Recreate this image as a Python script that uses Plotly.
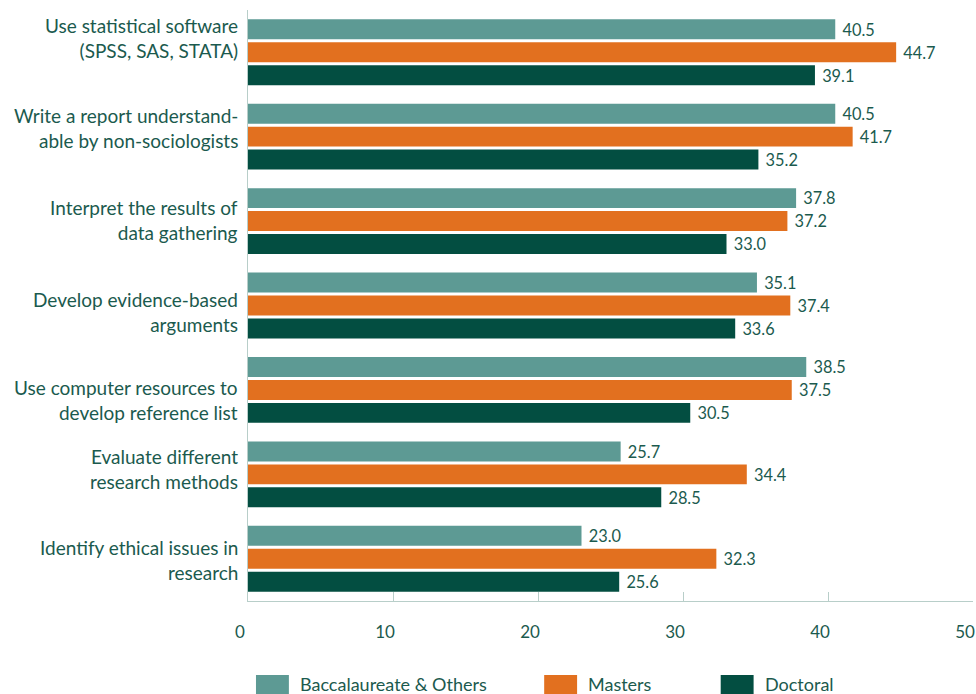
import plotly.graph_objects as go

# Skills categories (top to bottom)
categories = [
    "Use statistical software<br>(SPSS, SAS, STATA)",
    "Write a report understand-<br>able by non-sociologists",
    "Interpret the results of<br>data gathering",
    "Develop evidence-based<br>arguments",
    "Use computer resources to<br>develop reference list",
    "Evaluate different<br>research methods",
    "Identify ethical issues in<br>research",
]

series_names = ["Baccalaureate & Others", "Masters", "Doctoral"]
baccalaureate = [40.5, 40.5, 37.8, 35.1, 38.5, 25.7, 23.0]
masters = [44.7, 41.7, 37.2, 37.4, 37.5, 34.4, 32.3]
doctoral = [39.1, 35.2, 33.0, 33.6, 30.5, 28.5, 25.6]

x_ticks = [0, 10, 20, 30, 40, 50]

# Vertical nudge (px, positive = up) for each category label
label_nudge = [14, 9, 1, -6, -10, 5, -1]

colors = ["#5d9a94", "#e2701f", "#034e41"]
text_color = "#1b5a4e"
axis_color = "#b8cec9"
font_family = "Lato, 'Open Sans', sans-serif"

W, H = 976, 694
M_L, M_R, M_T, M_B = 248, 1, 10, 93
plot_w = W - M_L - M_R
plot_h = H - M_T - M_B

fig = go.Figure()
for name, vals, col in zip(series_names, [baccalaureate, masters, doctoral], colors):
    fig.add_trace(go.Bar(
        y=categories,
        x=vals,
        name=name,
        orientation="h",
        marker=dict(color=col, line=dict(width=0)),
        texttemplate="\u00a0%{x:.1f}",
        textposition="outside",
        textfont=dict(family=font_family, size=18, color=text_color),
        cliponaxis=False,
        showlegend=False,
    ))

fig.update_layout(
    width=W, height=H,
    margin=dict(l=M_L, r=M_R, t=M_T, b=M_B),
    paper_bgcolor="white",
    plot_bgcolor="white",
    barmode="group",
    bargap=0.185,
    bargroupgap=0.13,
    font=dict(family=font_family, color=text_color),
    xaxis=dict(
        range=[0, 50],
        tickvals=x_ticks,
        ticktext=[str(v) for v in x_ticks],
        showgrid=False,
        zeroline=False,
        showline=True,
        linecolor=axis_color,
        linewidth=1,
        ticks="inside",
        ticklen=9,
        tickcolor=axis_color,
        tickfont=dict(family=font_family, size=17, color=text_color),
        ticklabelstandoff=16,
        ticklabelshift=-8,
        ticklabeloverflow="allow",
    ),
    yaxis=dict(
        autorange="reversed",
        showgrid=False,
        zeroline=False,
        showline=True,
        linecolor=axis_color,
        linewidth=1,
        ticks="",
        showticklabels=False,
    ),
)

# Category labels, right-aligned against the value axis
for cat, dy in zip(categories, label_nudge):
    fig.add_annotation(xref="paper", yref="y", x=0, y=cat,
                       text=cat, showarrow=False,
                       xanchor="right", yanchor="middle", align="right",
                       xshift=-8, yshift=dy,
                       font=dict(family=font_family, size=19, color=text_color))

# Legend drawn along the bottom edge
legend_x = [256, 545, 722]
for name, col, lx in zip(series_names, colors, legend_x):
    x0 = (lx - M_L) / plot_w
    x1 = (lx + 33 - M_L) / plot_w
    y_top = (H - M_B - 675) / plot_h
    y_bot = (H - M_B - 696) / plot_h
    fig.add_shape(type="rect", xref="paper", yref="paper",
                  x0=x0, x1=x1, y0=y_bot, y1=y_top,
                  fillcolor=col, line=dict(width=0), layer="above")
    fig.add_annotation(xref="paper", yref="paper",
                       x=(lx + 42 - M_L) / plot_w,
                       y=(H - M_B - 684) / plot_h,
                       text=name, showarrow=False,
                       xanchor="left", yanchor="middle",
                       font=dict(family=font_family, size=18, color=text_color))

fig.write_html("out.html")
